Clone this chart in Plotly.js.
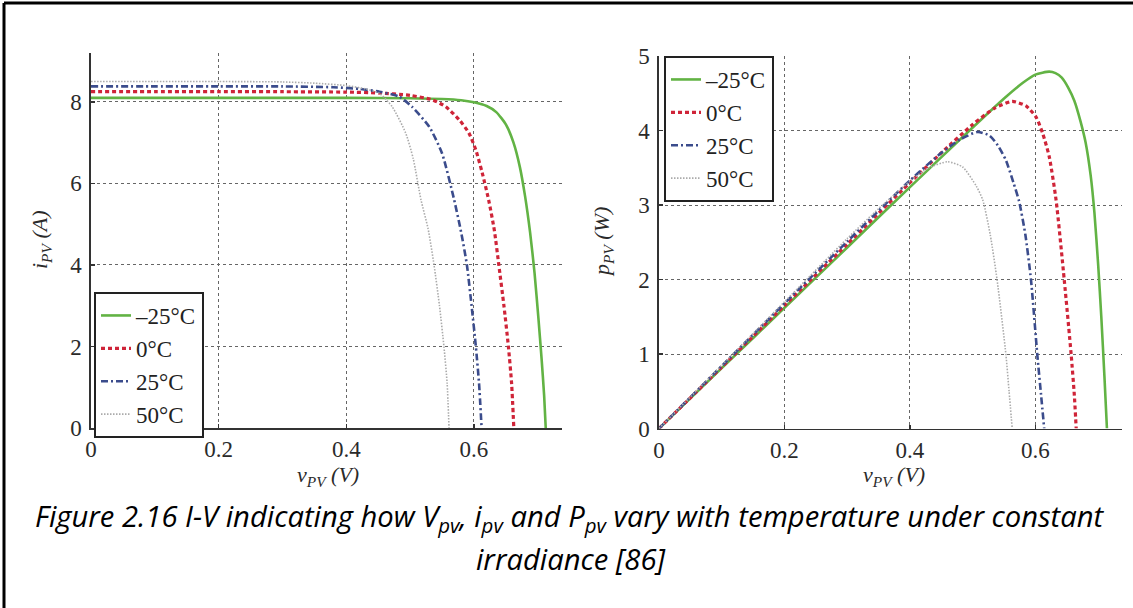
<!DOCTYPE html>
<html>
<head>
<meta charset="utf-8">
<script src="https://cdn.plot.ly/plotly-3.0.1.min.js"></script>
<style>
  html, body { margin: 0; padding: 0; background: #ffffff; }
  #chart { width: 1133px; height: 608px; }
</style>
</head>
<body>
<div id="chart"></div>
<script>
// ---------- Data ----------
const seriesNames = ['\u201325\u00b0C', '0\u00b0C', '25\u00b0C', '50\u00b0C'];

// Left panel: I-V curves (v in V, i in A)
const ivV_m25 = [0, 0.1, 0.2, 0.3, 0.4, 0.5, 0.55, 0.58, 0.6, 0.62, 0.635, 0.65, 0.662, 0.672, 0.68, 0.688, 0.695, 0.701, 0.706, 0.71, 0.7125];
const ivI_m25 = [8.1, 8.1, 8.1, 8.1, 8.1, 8.09, 8.07, 8.04, 7.99, 7.9, 7.75, 7.45, 7.0, 6.4, 5.7, 4.8, 3.8, 2.7, 1.7, 0.8, 0];

const ivV_0 = [0, 0.1, 0.2, 0.3, 0.4, 0.45, 0.5, 0.535, 0.556, 0.577, 0.592, 0.603, 0.613, 0.623, 0.632, 0.639, 0.647, 0.654, 0.659, 0.6625];
const ivI_0 = [8.25, 8.25, 8.25, 8.25, 8.24, 8.22, 8.16, 8.05, 7.88, 7.56, 7.24, 6.82, 6.26, 5.6, 4.85, 4.0, 3.0, 2.0, 1.1, 0];

const ivV_25 = [0, 0.1, 0.2, 0.3, 0.38, 0.42, 0.452, 0.483, 0.503, 0.53, 0.55, 0.569, 0.58, 0.589, 0.597, 0.603, 0.608, 0.612];
const ivI_25 = [8.38, 8.38, 8.38, 8.38, 8.36, 8.32, 8.25, 8.13, 7.88, 7.39, 6.74, 5.6, 4.8, 4.0, 2.9, 2.0, 1.1, 0];

const ivV_50 = [0, 0.1, 0.2, 0.3, 0.35, 0.4, 0.43, 0.452, 0.472, 0.493, 0.505, 0.517, 0.528, 0.5375, 0.546, 0.553, 0.558, 0.561];
const ivI_50 = [8.5, 8.5, 8.5, 8.49, 8.46, 8.4, 8.32, 8.21, 7.88, 7.24, 6.6, 5.6, 4.9, 4.0, 3.0, 2.0, 1.1, 0];

// Right panel: P-V curves (v in V, p in W)
const pvV_m25 = [0, 0.1, 0.2, 0.3, 0.4, 0.5, 0.55, 0.58, 0.6, 0.622, 0.632, 0.642, 0.652, 0.662, 0.672, 0.68, 0.688, 0.694, 0.7, 0.705, 0.71, 0.714];
const pvP_m25 = [0, 0.81, 1.62, 2.43, 3.24, 4.04, 4.43, 4.64, 4.75, 4.79, 4.77, 4.71, 4.58, 4.4, 4.12, 3.84, 3.4, 2.9, 2.2, 1.5, 0.7, 0];

const pvV_0 = [0, 0.1, 0.2, 0.3, 0.4, 0.45, 0.5, 0.535, 0.563, 0.585, 0.601, 0.612, 0.622, 0.633, 0.646, 0.657, 0.662, 0.665];
const pvP_0 = [0, 0.825, 1.65, 2.475, 3.3, 3.7, 4.08, 4.3, 4.39, 4.33, 4.18, 3.95, 3.65, 3.06, 1.99, 0.99, 0.45, 0];

const pvV_25 = [0, 0.1, 0.2, 0.3, 0.4, 0.45, 0.48, 0.508, 0.527, 0.54, 0.553, 0.565, 0.574, 0.584, 0.593, 0.603, 0.609, 0.614];
const pvP_25 = [0, 0.84, 1.68, 2.51, 3.33, 3.7, 3.88, 3.98, 3.93, 3.8, 3.6, 3.3, 3.05, 2.6, 1.99, 0.99, 0.45, 0];

const pvV_50 = [0, 0.1, 0.2, 0.3, 0.35, 0.4, 0.43, 0.46, 0.484, 0.506, 0.516, 0.528, 0.539, 0.553, 0.558, 0.563];
const pvP_50 = [0, 0.85, 1.7, 2.55, 2.95, 3.32, 3.5, 3.58, 3.51, 3.25, 3.07, 2.6, 1.99, 0.99, 0.5, 0];

// Axis ticks
const xTicks = [0, 0.2, 0.4, 0.6];
const xTickText = ['0', '0.2', '0.4', '0.6'];
const iTicks = [0, 2, 4, 6, 8];
const pTicks = [0, 1, 2, 3, 4, 5];

// ---------- Styling ----------
const W = 1133, H = 608;
const serif = 'Liberation Serif, Times New Roman, serif';
const styles = [
  {color: '#62b344', width: 2.6, dash: 'solid'},
  {color: '#cf2438', width: 3.2, dash: '4px,3px'},
  {color: '#3b4c8c', width: 2.6, dash: '7px,3px,2px,3px'},
  {color: '#ababab', width: 1.6, dash: '1.5px,1.5px'}
];

const ivData = [[ivV_m25, ivI_m25], [ivV_0, ivI_0], [ivV_25, ivI_25], [ivV_50, ivI_50]];
const pvData = [[pvV_m25, pvP_m25], [pvV_0, pvP_0], [pvV_25, pvP_25], [pvV_50, pvP_50]];

const traces = [];
ivData.forEach((d, k) => {
  traces.push({
    type: 'scatter', mode: 'lines', x: d[0], y: d[1], name: seriesNames[k],
    xaxis: 'x', yaxis: 'y', legend: 'legend', legendgroup: 'L' + k,
    line: Object.assign({shape: 'spline', smoothing: 0.6}, styles[k]),
    hoverinfo: 'skip'
  });
});
pvData.forEach((d, k) => {
  traces.push({
    type: 'scatter', mode: 'lines', x: d[0], y: d[1], name: seriesNames[k],
    xaxis: 'x2', yaxis: 'y2', legend: 'legend2', legendgroup: 'R' + k,
    line: Object.assign({shape: 'spline', smoothing: 0.6}, styles[k]),
    hoverinfo: 'skip'
  });
});

function px(x) { return x / W; }
function py(y) { return 1 - y / H; }

const axisCommon = {
  showgrid: true, griddash: 'dot', gridcolor: '#666666', gridwidth: 1,
  showline: true, linecolor: '#333333', linewidth: 1.6,
  ticks: 'inside', ticklen: 4, tickcolor: '#333333', tickwidth: 1.2,
  zeroline: false, fixedrange: true,
  tickfont: {family: serif, size: 23, color: '#2a2a2a'}
};

const legendCommon = {
  xanchor: 'left', yanchor: 'top', bgcolor: '#ffffff',
  bordercolor: '#222222', borderwidth: 2,
  font: {family: serif, size: 23, color: '#222222'},
  traceorder: 'grouped', tracegroupgap: 0, itemwidth: 30
};

const titleFont = {family: serif, size: 22, color: '#2a2a2a'};

const layout = {
  width: W, height: H,
  margin: {l: 0, r: 0, t: 0, b: 0},
  paper_bgcolor: '#ffffff', plot_bgcolor: '#ffffff',
  showlegend: true,
  xaxis: Object.assign({}, axisCommon, {
    domain: [px(91), px(562)], range: [0, 0.738], anchor: 'y',
    tickvals: xTicks, ticktext: xTickText, ticklabelstandoff: 0
  }),
  yaxis: Object.assign({}, axisCommon, {
    domain: [py(428), py(53)], range: [0, 9.2], anchor: 'x',
    tickvals: iTicks, ticklabelstandoff: 3
  }),
  xaxis2: Object.assign({}, axisCommon, {
    domain: [px(659), px(1122)], range: [0, 0.738], anchor: 'y2',
    tickvals: xTicks, ticktext: xTickText, ticklabelstandoff: 0
  }),
  yaxis2: Object.assign({}, axisCommon, {
    domain: [py(428.5), py(56)], range: [0, 5], anchor: 'x2',
    tickvals: pTicks, ticklabelstandoff: 3
  }),
  legend: Object.assign({}, legendCommon, {x: px(94), y: py(292)}),
  legend2: Object.assign({}, legendCommon, {x: px(664), y: py(56)}),
  shapes: [
    {type: 'line', xref: 'paper', yref: 'paper', x0: px(4), x1: 1, y0: py(3), y1: py(3),
     line: {color: '#000000', width: 3}},
    {type: 'line', xref: 'paper', yref: 'paper', x0: px(4), x1: px(4), y0: py(3), y1: 0,
     line: {color: '#000000', width: 3}}
  ],
  annotations: [
    {text: '<i>i</i><sub><i>PV</i></sub> <i>(A)</i>', xref: 'paper', yref: 'paper',
     x: px(41), y: py(240), textangle: -90, showarrow: false,
     xanchor: 'center', yanchor: 'middle', font: titleFont},
    {text: '<i>p</i><sub><i>PV</i></sub> <i>(W)</i>', xref: 'paper', yref: 'paper',
     x: px(603), y: py(242), textangle: -90, showarrow: false,
     xanchor: 'center', yanchor: 'middle', font: titleFont},
    {text: '<i>v</i><sub><i>PV</i></sub> <i>(V)</i>', xref: 'paper', yref: 'paper',
     x: px(328), y: py(476), showarrow: false,
     xanchor: 'center', yanchor: 'middle', font: titleFont},
    {text: '<i>v</i><sub><i>PV</i></sub> <i>(V)</i>', xref: 'paper', yref: 'paper',
     x: px(894), y: py(476), showarrow: false,
     xanchor: 'center', yanchor: 'middle', font: titleFont},
    {text: '<i>Figure 2.16 I-V indicating how V<sub>pv</sub>, i<sub>pv</sub> and P<sub>pv</sub> vary with temperature under constant</i>',
     xref: 'paper', yref: 'paper', x: px(570), y: py(517), showarrow: false,
     xanchor: 'center', yanchor: 'middle', font: {family: 'Open Sans, sans-serif', size: 29.2, color: '#000000'}},
    {text: '<i>irradiance [86]</i>',
     xref: 'paper', yref: 'paper', x: px(570), y: py(559), showarrow: false,
     xanchor: 'center', yanchor: 'middle', font: {family: 'Open Sans, sans-serif', size: 29.2, color: '#000000'}}
  ]
};

Plotly.newPlot('chart', traces, layout, {displayModeBar: false, staticPlot: true});
</script>
</body>
</html>
